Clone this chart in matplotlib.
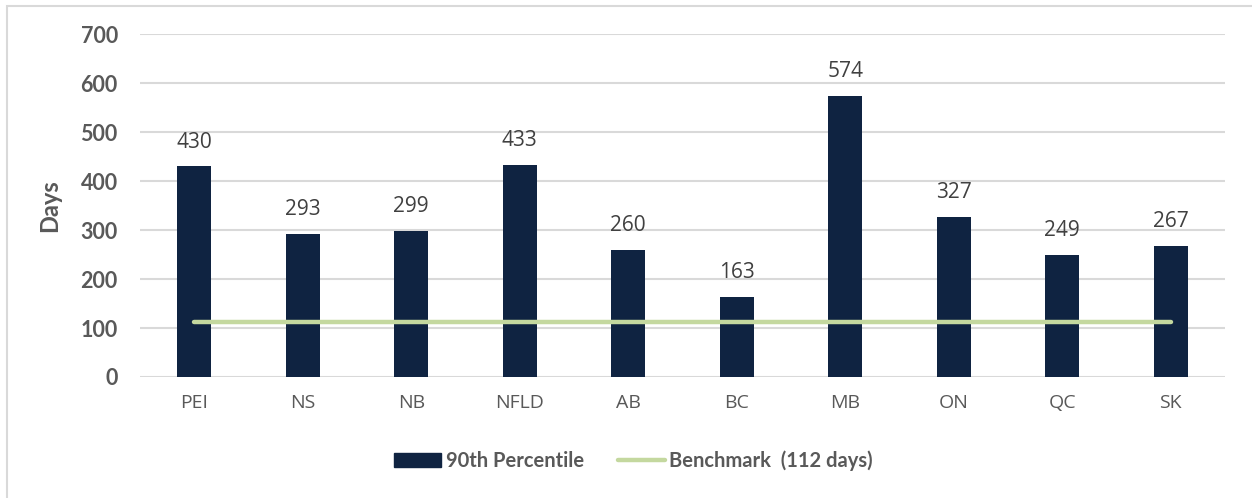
import matplotlib.pyplot as plt
from matplotlib.patches import Rectangle, Patch
from matplotlib.lines import Line2D

plt.rcParams['font.family'] = ['Lato', 'DejaVu Sans']

# Provinces and their 90th percentile wait times (days)
provinces = ['PEI', 'NS', 'NB', 'NFLD', 'AB', 'BC', 'MB', 'ON', 'QC', 'SK']
p90_days = [430, 293, 299, 433, 260, 163, 574, 327, 249, 267]
benchmark = 112

bar_color = '#0F2341'
line_color = '#C4D89F'
grid_color = '#D9D9D9'
tick_color = '#595959'

fig = plt.figure(figsize=(12.52, 4.98), dpi=100)
ax = fig.add_axes([0.1118, 0.243, 0.8666, 0.6883])

# outer chart frame
fig.patches.append(Rectangle((7 / 1252, -0.1), 1.2, 1 - 6 / 498 + 0.1,
                             transform=fig.transFigure, fill=False,
                             edgecolor='#D9D9D9', linewidth=1.5))

x = range(len(provinces))
ax.bar(x, p90_days, width=0.31, color=bar_color, zorder=3)
ax.plot([0, len(provinces) - 1], [benchmark, benchmark], color=line_color,
        linewidth=3.2, solid_capstyle='round', zorder=4)

for xi, v in zip(x, p90_days):
    ax.annotate(str(v), (xi, v), xytext=(0, 10), textcoords='offset points',
                ha='center', va='bottom', fontsize=15, color='#404040',
                family=['Open Sans', 'DejaVu Sans'])

ax.set_xlim(-0.5, len(provinces) - 0.5)
ax.set_ylim(0, 700)
ax.set_yticks(range(0, 701, 100))
ax.set_xticks(list(x))
ax.set_xticklabels(provinces, fontsize=14, color=tick_color,
                   family=['Open Sans', 'DejaVu Sans'])
ax.tick_params(axis='x', length=0, pad=12)
ax.tick_params(axis='y', length=0, pad=16, labelsize=15.5, labelcolor=tick_color)
for lbl in ax.get_yticklabels():
    lbl.set_fontweight('bold')

ax.yaxis.grid(True, color=grid_color, linewidth=1.5, zorder=0)
ax.set_axisbelow(True)
for s in ax.spines.values():
    s.set_visible(False)

ax.set_ylabel('Days', fontsize=17, fontweight='bold', color=tick_color, labelpad=14)

handles = [Patch(facecolor=bar_color, edgecolor=bar_color),
           Line2D([0], [0], color=line_color, linewidth=3.2, solid_capstyle='round')]
leg = fig.legend(handles, ['90th Percentile', 'Benchmark  (112 days)'],
                 loc='center', bbox_to_anchor=(0.506, 1 - 461 / 498), ncol=2,
                 frameon=False, handlelength=2.35, handleheight=0.7,
                 handletextpad=0.2, columnspacing=1.7,
                 prop={'weight': 'bold', 'size': 14.5})
for t in leg.get_texts():
    t.set_color(tick_color)

fig.savefig('out.png', dpi=100)
